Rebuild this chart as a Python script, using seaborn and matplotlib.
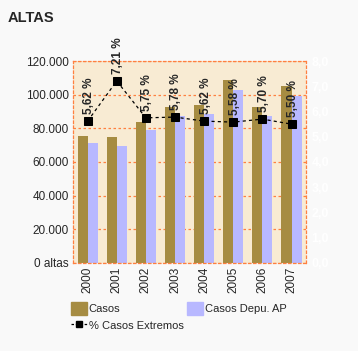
import numpy as np
import pandas as pd
import matplotlib.pyplot as plt
import seaborn as sns
from matplotlib.patches import Patch
from matplotlib.lines import Line2D

years = ['2000', '2001', '2002', '2003', '2004', '2005', '2006', '2007']
casos = [75400, 74800, 83900, 92600, 93800, 108600, 92600, 105200]
casos_depu = [71200, 69400, 79100, 87200, 88600, 102700, 87200, 99300]
pct_extremos = [5.62, 7.21, 5.75, 5.78, 5.62, 5.58, 5.70, 5.50]

c_casos = '#a68c42'
c_depu = '#b8b8ff'
c_grid = '#ff8040'

sns.set_style('white')
plt.rcParams['font.family'] = ['Liberation Sans', 'DejaVu Sans']

df = pd.DataFrame({
    'year': years * 2,
    'value': casos + casos_depu,
    'serie': ['Casos'] * len(years) + ['Casos Depu. AP'] * len(years),
})

fig = plt.figure(figsize=(3.58, 3.51), dpi=100, facecolor='#f9f9f9')
ax = fig.add_axes([0.204, 0.251, 0.651, 0.575])
ax.set_facecolor('#f8ebd3')

sns.barplot(data=df, x='year', y='value', hue='serie', ax=ax,
            palette=[c_casos, c_depu], width=0.69, gap=0, legend=False,
            saturation=1, edgecolor='none', zorder=2)

ax.set_ylim(0, 120000)
ax.set_xlim(-0.5, len(years) - 0.5)
yt = np.arange(0, 120001, 20000)
ax.set_yticks(yt)
ax.set_yticklabels(['0 altas'] + [f'{v:,.0f}'.replace(',', '.') for v in yt[1:]],
                   fontsize=8.5)
ax.set_xticks(range(len(years)))
ax.set_xticklabels(years, rotation=90, fontsize=8.5)
ax.tick_params(length=0, pad=3)
ax.set_xlabel('')
ax.set_ylabel('')
ax.yaxis.grid(True, color=c_grid, linestyle=(0, (2, 2)), linewidth=0.9, zorder=0)
ax.set_axisbelow(True)
for s in ax.spines.values():
    s.set_color(c_grid)
    s.set_linestyle((0, (2, 2)))
    s.set_linewidth(0.9)

ax2 = ax.twinx()
sns.lineplot(x=np.arange(len(years)), y=pct_extremos, ax=ax2, color='black',
             linewidth=0.9, marker='s', markersize=6, markeredgecolor='black',
             dashes=False, zorder=5)
ax2.lines[0].set_linestyle((0, (2.5, 2.5)))
ax2.set_ylim(0, 8)
ax2.set_yticks(np.arange(0, 8.1, 1))
ax2.set_yticklabels([f'{v:.1f}'.replace('.', ',') for v in np.arange(0, 8.1, 1)],
                    fontsize=9, color='white', fontweight='bold')
ax2.tick_params(length=0, pad=4)
for s in ax2.spines.values():
    s.set_visible(False)

for i, p in enumerate(pct_extremos):
    ax2.annotate(f'{p:.2f} %'.replace('.', ','), (i, p), xytext=(1, 5),
                 textcoords='offset points', rotation=90, ha='center',
                 va='bottom', fontsize=8.5, fontweight='bold', annotation_clip=False)

fig.text(0.022, 0.948, 'ALTAS', fontsize=10.5, fontweight='bold', va='center')

handles = [Patch(color=c_casos), Line2D([], [], color='black', linestyle=(0, (2, 1.5)),
           marker='s', markersize=5, linewidth=0.9),
           Patch(color=c_depu)]
labels = ['Casos', '% Casos Extremos', 'Casos Depu. AP']
fig.legend(handles, labels, ncol=2, loc='upper left', bbox_to_anchor=(0.183, 0.155),
           frameon=False, fontsize=8, handlelength=1.4, handleheight=1.4,
           handletextpad=0.2, columnspacing=0.3, labelspacing=0.35, borderpad=0)

fig.savefig('out.png', dpi=100, facecolor=fig.get_facecolor())
